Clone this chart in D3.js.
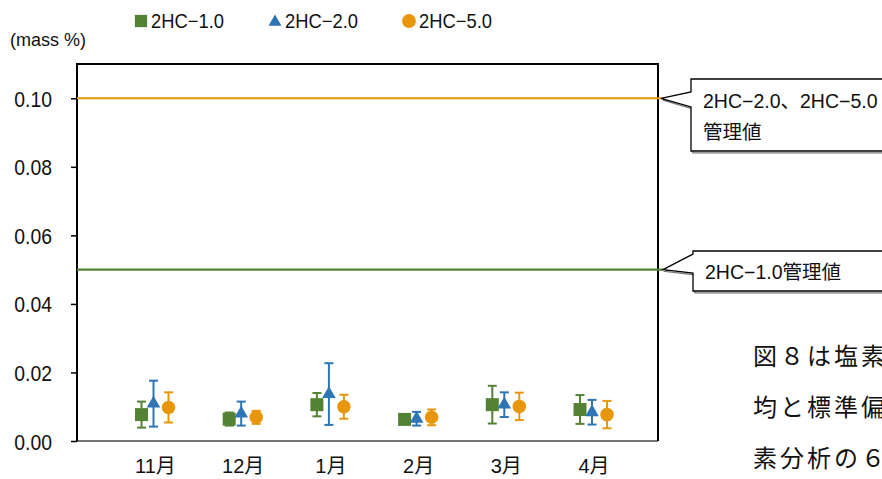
<!DOCTYPE html>
<html>
<head>
<meta charset="utf-8">
<script src="https://cdn.jsdelivr.net/npm/d3@7"></script>
<style>
  html, body { margin: 0; padding: 0; background: #fff; overflow: hidden; }
  svg { display: block; }
</style>
</head>
<body>
<svg id="chart" width="882" height="479"></svg>
<script>
// Monthly chlorine content: mean and standard deviation per grade
const months = ["11月", "12月", "1月", "2月", "3月", "4月"];
const seriesNames = ["2HC\u22121.0", "2HC\u22122.0", "2HC\u22125.0"];
const mean10 = [0.0077, 0.0064, 0.0106, 0.0063, 0.0106, 0.0092];
const sd10   = [0.0038, 0.0019, 0.0034, 0.0012, 0.0055, 0.0042];
const mean20 = [0.0109, 0.0080, 0.0137, 0.0065, 0.0106, 0.0084];
const sd20   = [0.0067, 0.0035, 0.0090, 0.0020, 0.0036, 0.0036];
const mean50 = [0.0098, 0.0069, 0.0100, 0.0069, 0.0101, 0.0077];
const sd50   = [0.0044, 0.0019, 0.0035, 0.0023, 0.0040, 0.0040];
const limit20and50 = 0.10;
const limit10 = 0.05;
const yTicks = [0, 0.02, 0.04, 0.06, 0.08, 0.10];
const yMax = 0.11;
const unitLabel = "(mass %)";
const limitLabel20and50 = ["2HC\u22122.0、2HC\u22125.0", "管理値"];
const limitLabel10 = ["2HC\u22121.0管理値"];
const bodyLines = ["図８は塩素", "均と標準偏", "素分析の６"];

const GREEN = "#548235", BLUE = "#2E75B6", ORANGE = "#E8960C";
const LATIN = "'Liberation Sans', Arial, 'Noto Sans CJK JP', sans-serif";
const CJK = "'Noto Sans CJK JP', 'Noto Sans CJK SC', sans-serif";

const series = [
  { name: seriesNames[0], mean: mean10, sd: sd10, color: GREEN,  symbol: d3.symbolSquare,   size: 169, legendSize: 150, dx: -12 },
  { name: seriesNames[1], mean: mean20, sd: sd20, color: BLUE,   symbol: d3.symbolTriangle, size: 80,  legendSize: 72,  dx: 0 },
  { name: seriesNames[2], mean: mean50, sd: sd50, color: ORANGE, symbol: d3.symbolCircle,   size: 143, legendSize: 150, dx: 15 }
];

const svg = d3.select("#chart");
const plot = { left: 77, right: 658, top: 64, bottom: 441 };

const y = d3.scaleLinear().domain([0, yMax]).range([plot.bottom, plot.top]);
const x = d3.scalePoint().domain(months).range([plot.left + 76.5, plot.right - 66]);

// frame of the plot area
svg.append("line").attr("x1", plot.left).attr("x2", plot.right)
  .attr("y1", plot.bottom).attr("y2", plot.bottom)
  .attr("stroke", "#444").attr("stroke-width", 1.6);
svg.append("path")
  .attr("d", `M${plot.left},${plot.bottom}V${plot.top}H${plot.right}V${plot.bottom}`)
  .attr("fill", "none").attr("stroke", "#000").attr("stroke-width", 2);

// y axis ticks and labels
const yAxis = svg.append("g").attr("transform", `translate(${plot.left},0)`)
  .call(d3.axisLeft(y).tickValues(yTicks).tickSize(6).tickFormat(d3.format(".2f")));
yAxis.select(".domain").remove();
yAxis.selectAll(".tick line").attr("stroke", "#000").attr("stroke-width", 1.5);
yAxis.selectAll(".tick text")
  .attr("x", null).attr("dy", null)
  .attr("transform", "translate(-25,8) scale(0.88,1)")
  .attr("text-anchor", "end")
  .attr("fill", "#111")
  .style("font-family", LATIN).style("font-size", "22px");

// unit label
svg.append("text").attr("x", 10).attr("y", 46)
  .style("font-family", LATIN).style("font-size", "18px").attr("fill", "#111")
  .text(unitLabel);

// legend
const legend = svg.append("g");
series.forEach((s, i) => {
  const lx = 141 + i * 134;
  legend.append("path")
    .attr("d", d3.symbol().type(s.symbol).size(s.legendSize)())
    .attr("transform", `translate(${lx},${s.symbol === d3.symbolTriangle ? 22 : 21})`)
    .attr("fill", s.color);
  legend.append("text")
    .attr("transform", `translate(${lx + 10},28) scale(0.92,1)`)
    .style("font-family", LATIN).style("font-size", "20px").attr("fill", "#111")
    .text(s.name);
});

// management limit lines with callouts
function callout(val, tipX, boxLeft, boxTop, boxBottom, wedgeTop, wedgeBottom, lines, color, baselines) {
  const ty = y(val);
  svg.append("line").attr("x1", plot.left).attr("x2", tipX)
    .attr("y1", ty).attr("y2", ty)
    .attr("stroke", color).attr("stroke-width", 2.2);
  const right = 900;
  const d = `M${boxLeft},${boxTop}H${right}V${boxBottom}H${boxLeft}V${wedgeBottom}L${tipX},${ty}L${boxLeft},${wedgeTop}Z`;
  svg.append("path").attr("d", d).attr("transform", "translate(1.8,1.8)")
    .attr("fill", "none").attr("stroke", "#777").attr("stroke-width", 1.2);
  svg.append("path").attr("d", d)
    .attr("fill", "#fff").attr("stroke", "#000").attr("stroke-width", 1.3);
  lines.forEach((t, i) => {
    svg.append("text").attr("x", boxLeft + 12).attr("y", baselines[i])
      .style("font-family", LATIN).style("font-size", "19.5px").attr("fill", "#111")
      .text(t);
  });
}
callout(limit20and50, 661, 691, 79, 151, 92, 107, limitLabel20and50, ORANGE, [108, 139]);
callout(limit10, 663, 693, 251, 291, 254, 273, limitLabel10, GREEN, [279]);

// error bars and markers
const capW = 9;
series.forEach(s => {
  const g = svg.append("g");
  months.forEach((m, i) => {
    const cx = x(m) + s.dx;
    const lo = y(s.mean[i] - s.sd[i]), hi = y(s.mean[i] + s.sd[i]);
    g.append("line").attr("x1", cx).attr("x2", cx).attr("y1", lo).attr("y2", hi)
      .attr("stroke", s.color).attr("stroke-width", 2);
    [lo, hi].forEach(v => {
      g.append("line").attr("x1", cx - capW / 2).attr("x2", cx + capW / 2)
        .attr("y1", v).attr("y2", v)
        .attr("stroke", s.color).attr("stroke-width", 2);
    });
    g.append("path")
      .attr("d", d3.symbol().type(s.symbol).size(s.size)())
      .attr("transform", `translate(${cx},${y(s.mean[i])})`)
      .attr("fill", s.color);
  });
});

// month labels
svg.append("g").selectAll("text").data(months).join("text")
  .attr("x", d => x(d) + 2).attr("y", 473)
  .attr("text-anchor", "middle")
  .style("font-family", LATIN).style("font-size", "20px").attr("fill", "#111")
  .text(d => d);

// body text beside the chart, running past the right edge of the page
svg.append("g").selectAll("text").data(bodyLines).join("text")
  .attr("x", 753).attr("y", (d, i) => 365 + i * 51)
  .style("font-family", CJK).style("font-size", "24px")
  .style("letter-spacing", "3px").attr("fill", "#111")
  .text(d => d);
</script>
</body>
</html>
